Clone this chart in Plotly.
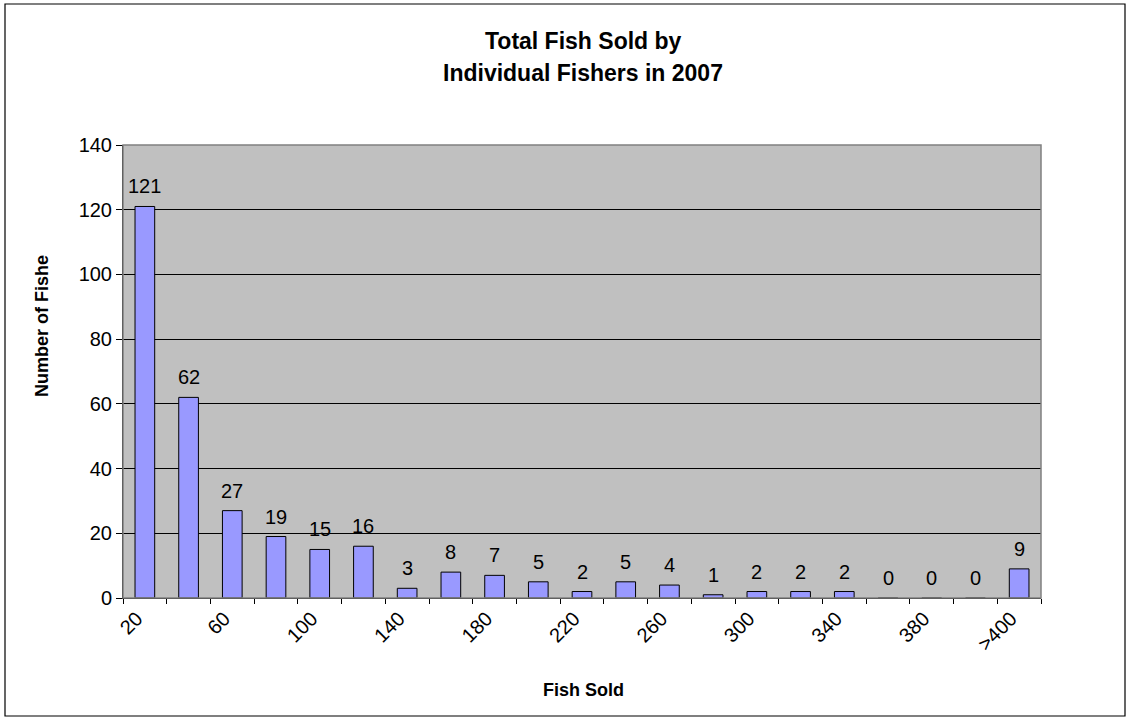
import plotly.graph_objects as go

categories = ["20", "40", "60", "80", "100", "120", "140", "160", "180", "200",
              "220", "240", "260", "280", "300", "320", "340", "360", "380", "400", ">400"]
counts = [121, 62, 27, 19, 15, 16, 3, 8, 7, 5, 2, 5, 4, 1, 2, 2, 2, 0, 0, 0, 9]
tick_labels = ["20", "", "60", "", "100", "", "140", "", "180", "", "220", "",
               "260", "", "300", "", "340", "", "380", "", ">400"]
y_ticks = [0, 20, 40, 60, 80, 100, 120, 140]

title_lines = ["Total Fish Sold by", "Individual Fishers in 2007"]
x_title = "Fish Sold"
y_title = "Number of Fishe"

W, H = 1131, 721
L, R, T, B = 123, 1041, 145, 598
pw, ph = R - L, B - T

def px(x):
    return (x - L) / pw

def py(y):
    return (B - y) / ph

FONT = "Liberation Sans, Arial, sans-serif"

fig = go.Figure()
fig.add_trace(go.Bar(
    x=categories, y=counts, width=0.45,
    marker=dict(color="#9999FF", line=dict(color="black", width=1)),
    hoverinfo="x+y",
))

for i, (c, v) in enumerate(zip(categories, counts)):
    fig.add_annotation(x=i, y=v, text=str(v), showarrow=False, yanchor="bottom",
                       yshift=7, font=dict(family=FONT, size=20, color="black"))

fig.update_layout(
    width=W, height=H,
    margin=dict(l=L, r=W - R, t=T, b=H - B, autoexpand=False),
    paper_bgcolor="white", plot_bgcolor="#C0C0C0",
    showlegend=False,
    font=dict(family=FONT, color="black"),
    xaxis=dict(type="category", tickson="boundaries", tickvals=categories, ticktext=tick_labels,
               tickangle=-45, ticks="outside", ticklen=5, tickcolor="black", tickwidth=1,
               ticklabelshift=-8, ticklabelstandoff=0,
               showline=True, linecolor="black", linewidth=1, showgrid=False,
               tickfont=dict(family=FONT, size=20, color="black"), range=[-0.5, 20.5]),
    yaxis=dict(range=[0, 140], tickvals=y_ticks, ticks="outside", ticklen=6, tickcolor="black",
               showline=True, linecolor="black", linewidth=1,
               showgrid=True, gridcolor="black", gridwidth=1, zeroline=False,
               tickfont=dict(family=FONT, size=20, color="black")),
)

# plot area border (gray, Excel style)
fig.add_shape(type="rect", xref="paper", yref="paper", x0=0, x1=1, y0=0, y1=1,
              line=dict(color="#808080", width=1.5), layer="above")
# chart frame
fig.add_shape(type="rect", xref="paper", yref="paper",
              x0=px(5), x1=px(1125), y0=py(716), y1=py(4),
              line=dict(color="black", width=1.2))

for k, line in enumerate(title_lines):
    fig.add_annotation(xref="paper", yref="paper", x=px(583), y=py(41 + 32 * k),
                       text="<b>" + line + "</b>",
                       showarrow=False, xanchor="center", yanchor="middle",
                       font=dict(family=FONT, size=23, color="black"))
fig.add_annotation(xref="paper", yref="paper", x=px(583), y=py(690), text="<b>" + x_title + "</b>",
                   showarrow=False, xanchor="center", yanchor="middle",
                   font=dict(family=FONT, size=18, color="black"))
fig.add_annotation(xref="paper", yref="paper", x=px(42), y=py(326), text="<b>" + y_title + "</b>",
                   textangle=-90, showarrow=False, xanchor="center", yanchor="middle",
                   font=dict(family=FONT, size=18, color="black"))

fig.write_html("out.html", config={"displayModeBar": False},
               post_script="document.body.style.margin='0';")
